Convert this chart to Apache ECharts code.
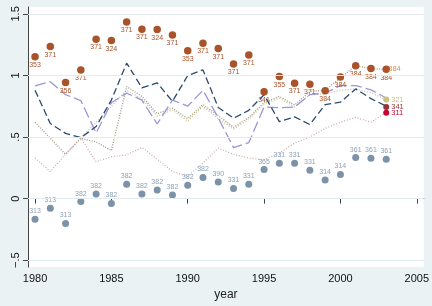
<!DOCTYPE html>
<html>
<head>
<meta charset="utf-8">
<script src="https://cdn.jsdelivr.net/npm/echarts@6/dist/echarts.min.js"></script>
<style>
html, body { margin: 0; padding: 0; background: #eaf2f3; }
#chart { width: 432px; height: 306px; }
</style>
</head>
<body>
<div id="chart"></div>
<script>
var years = [1980, 1981, 1982, 1983, 1984, 1985, 1986, 1987, 1988, 1989, 1990, 1991,
    1992, 1993, 1994, 1995, 1996, 1997, 1998, 1999, 2000, 2001, 2002, 2003];

// oberste Punktreihe (braun) mit Beschriftung unten
var topVals = [1.153, 1.236, 0.942, 1.045, 1.294, 1.283, 1.434, 1.375, 1.373, 1.328, 1.201, 1.262,
    1.22, 1.093, 1.167, 0.868, 0.992, 0.937, 0.929, 0.876, 0.987, 1.079, 1.056, 1.05];
var topLabels = ['353', '371', '356', '371', '371', '324', '371', '371', '324', '371', '353', '371',
    '371', '371', '371', '341', '355', '371', '371', '384', '384', '384', '384', '384'];

// untere Punktreihe (blaugrau) mit Beschriftung oben
var botVals = [-0.167, -0.079, -0.201, -0.024, 0.037, -0.04, 0.116, 0.037, 0.071, 0.029, 0.108, 0.172,
    0.135, 0.082, 0.116, 0.236, 0.288, 0.288, 0.23, 0.151, 0.196, 0.333, 0.328, 0.32];
var botLabels = ['313', '313', '313', '382', '382', '382', '382', '382', '382', '382', '382', '382',
    '390', '331', '331', '365', '331', '331', '331', '314', '314', '361', '361', '361'];

// Linien
var navyVals = [0.88, 0.61, 0.53, 0.495, 0.585, 0.8, 1.1, 0.9, 0.94, 0.79, 1.0, 1.045,
    0.74, 0.653, 0.717, 0.844, 0.625, 0.664, 0.601, 0.764, 0.783, 0.891, 0.812, 0.751];
var lavenderVals = [0.915, 0.95, 0.844, 0.796, 0.532, 0.778, 0.857, 0.8, 0.606, 0.8, 0.751, 0.88,
    0.655, 0.415, 0.455, 0.744, 0.738, 0.744, 0.844, 0.857, 0.918, 0.918, 0.884, 0.817];
var dotAVals = [0.62, 0.49, 0.36, 0.49, 0.46, 0.39, 0.91, 0.83, 0.69, 0.735, 0.65, 0.764,
    0.675, 0.579, 0.659, 0.78, 0.83, 0.76, 0.87, 0.88, 0.98, 1.08, 1.056, 1.05];
var khakiVals = [null, null, null, 0.49, 0.62, 0.75, 0.88, 0.81, 0.67, 0.72, 0.63, 0.75,
    0.65, 0.565, 0.645, 0.77, 0.815, 0.745, 0.845, 0.85, 0.88, 0.89, 0.86, 0.804];
var dotCVals = [0.33, 0.22, 0.36, 0.49, 0.3, 0.34, 0.355, 0.415, 0.32, 0.22, 0.18, 0.29,
    0.41, 0.36, 0.33, 0.315, 0.37, 0.45, 0.5, 0.57, 0.62, 0.66, 0.62, 0.7];

// Endpunkte 2003
var endYear = 2003;
var endVals = [1.05, 0.804, 0.744, 0.698];
var endLabels = ['384', '321', '341', '311'];
var endColors = ['#e0904a', '#cac27e', '#90353b', '#c10534'];

var xTicks = [1980, 1985, 1990, 1995, 2000, 2005];
var yTicks = [-0.5, 0, 0.5, 1, 1.5];
var yTickLabels = ['\u2212.5', '0', '.5', '1', '1.5'];

function pairs(vals) {
    return years.map(function (y, i) { return [y, vals[i]]; });
}

var font = 'Liberation Sans, Arial, sans-serif';

function lineSeries(vals, color, dash, width) {
    return {
        type: 'line',
        data: pairs(vals),
        symbol: 'none',
        connectNulls: false,
        lineStyle: { color: color, width: width, type: dash },
        z: 2
    };
}

var chart = echarts.init(document.getElementById('chart'));
chart.setOption({
    backgroundColor: '#eaf2f3',
    animation: false,
    grid: {
        left: 28, right: 7, top: 7, bottom: 33,
        show: true, backgroundColor: '#ffffff', borderWidth: 0
    },
    xAxis: {
        type: 'value',
        min: 1979.54,
        max: 2005.46,
        name: 'year',
        nameLocation: 'middle',
        nameGap: 21,
        nameTextStyle: { fontFamily: font, fontSize: 12, color: '#222' },
        axisLine: { lineStyle: { color: '#444', width: 1 } },
        axisTick: { length: 5, customValues: xTicks, lineStyle: { color: '#444' } },
        axisLabel: {
            customValues: xTicks, margin: 6, fontFamily: font, fontSize: 11, color: '#111',
            formatter: function (v) { return String(Math.round(v)); }
        },
        splitLine: { show: false }
    },
    yAxis: {
        type: 'value',
        min: -0.556,
        max: 1.556,
        axisLine: { show: true, lineStyle: { color: '#444', width: 1 } },
        axisTick: { show: true, length: 5, customValues: yTicks, lineStyle: { color: '#444' } },
        axisLabel: {
            customValues: yTicks,
            rotate: 90,
            margin: 7,
            fontFamily: font,
            fontSize: 11,
            color: '#111',
            formatter: function (v) {
                for (var i = 0; i < yTicks.length; i++) {
                    if (Math.abs(yTicks[i] - v) < 1e-6) return yTickLabels[i];
                }
                return '';
            }
        },
        splitLine: { show: false }
    },
    series: [
        {
            // Gitterlinien
            type: 'line',
            data: [],
            silent: true,
            z: 1,
            markLine: {
                silent: true,
                symbol: 'none',
                label: { show: false },
                lineStyle: { color: '#e3ebee', width: 1, type: 'solid' },
                data: yTicks.map(function (v) { return { yAxis: v }; })
            }
        },
        lineSeries(dotCVals, '#c9a9b0', [1, 1.8], 1.2),
        lineSeries(khakiVals, '#c4bb84', [1, 1.8], 1.2),
        lineSeries(dotAVals, '#a39783', [1, 1.5], 1.3),
        lineSeries(lavenderVals, '#9a95d6', [11, 4], 1.3),
        lineSeries(navyVals, '#2b4a6e', [7, 3.5], 1.3),
        {
            type: 'scatter',
            data: pairs(topVals),
            symbolSize: 7.5,
            itemStyle: { color: '#a9532b', opacity: 1 },
            label: {
                show: true,
                position: 'bottom',
                distance: 1,
                fontFamily: font,
                fontSize: 7,
                color: '#a9532b',
                formatter: function (p) { return topLabels[p.dataIndex]; }
            },
            z: 4
        },
        {
            type: 'scatter',
            data: pairs(botVals),
            symbolSize: 7,
            itemStyle: { color: '#7b92a8', opacity: 1 },
            label: {
                show: true,
                position: 'top',
                distance: 1,
                fontFamily: font,
                fontSize: 7,
                color: '#8ea2b6',
                formatter: function (p) { return botLabels[p.dataIndex]; }
            },
            z: 4
        },
        {
            type: 'scatter',
            data: endVals.map(function (v, i) {
                return {
                    value: [endYear, v],
                    symbolSize: i === 0 ? 0 : 6,
                    itemStyle: { color: endColors[i], opacity: 1 },
                    label: { color: endColors[i] }
                };
            }),
            label: {
                show: true,
                position: 'right',
                distance: 2,
                fontFamily: font,
                fontSize: 7.5,
                formatter: function (p) { return endLabels[p.dataIndex]; }
            },
            z: 5
        }
    ]
});
</script>
</body>
</html>
